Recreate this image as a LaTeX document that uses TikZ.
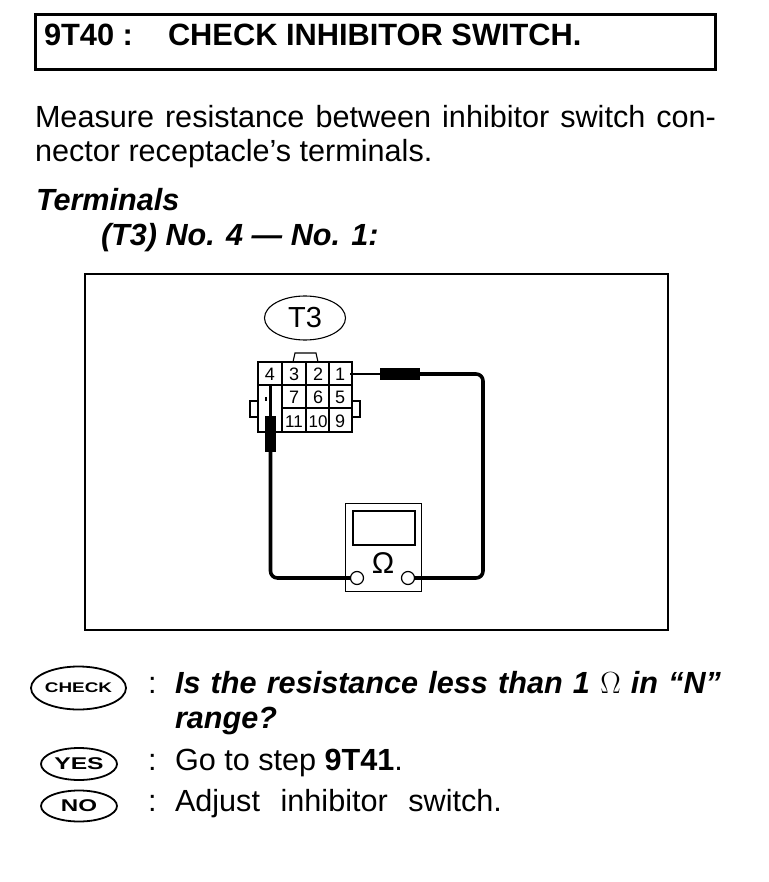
\documentclass[tikz,border=0pt]{standalone}
\usepackage{fontspec}
\usepackage{graphicx}
\setmainfont{Liberation Sans}
\usetikzlibrary{shapes.geometric}
\tikzset{
  txt/.style={anchor=base west,inner sep=0pt,outer sep=0pt},
  body/.style={txt,font=\fontsize{30.6}{34}\selectfont},
  head/.style={txt,font=\fontsize{30.8}{34}\selectfont\bfseries},
  quest/.style={txt,font=\fontsize{30.6}{34}\selectfont\bfseries\itshape},
  pill/.style={draw,ellipse,line width=1.8pt,inner sep=0pt},
  cellnum/.style={inner sep=0pt,font=\fontsize{18}{18}\selectfont},
  wire/.style={line width=3.6pt,rounded corners=7pt},
  probe/.style={fill=black,draw=none,inner sep=0pt,outer sep=0pt},
  thin/.style={line width=1.1pt},
}
\begin{document}
\begin{tikzpicture}[x=1pt,y=-1pt]
\useasboundingbox (0,0) rectangle (768,882);
% title
\node[draw,line width=2.6pt,minimum width=680pt,minimum height=55pt,inner sep=0pt,anchor=north west] (titlebox) at (34,13) {};
\node[head] (tnum) at (44,46) {9T40 :};
\node[head] (ttext) at (168,46) {CHECK INHIBITOR SWITCH.};
% paragraph
\node[body] (p1) at (35,128) {\makebox[681pt][s]{Measure resistance between inhibitor switch con-}};
\node[body] (p2) at (35,162) {nector receptacle’s terminals.};
\node[quest] (term) at (36,211) {Terminals};
\node[quest] (t3line) at (101,246) {(T3) No. 4 — No. 1:};
% frame
\node[draw,line width=1.6pt,minimum width=583pt,minimum height=356pt,inner sep=0pt,anchor=north west] (frame) at (84,273) {};
\node[draw,ellipse,thin,minimum width=81pt,minimum height=44pt,inner sep=0pt,font=\fontsize{29}{29}\selectfont] (t3) at (305,318) {T3};
% connector
\draw[thin] (293,362) -- (295,353) -- (316,353) -- (318,362);
\draw[thin] (258,401) -- (250,401) -- (250,417) -- (258,417);
\draw[thin] (352,401) -- (360,401) -- (360,417) -- (352,417);
\draw[thin] (258,385) rectangle (352,432);
\draw[thin] (258,362) rectangle (352,385);
\draw[thin] (282,362) -- (282,432);
\draw[thin] (306,362) -- (306,432);
\draw[thin] (329,362) -- (329,432);
\draw[thin] (282,408) -- (352,408);
\fill (265,397) rectangle (267,401);
\node[cellnum,anchor=base] (c4) at (270,380.5) {4};
\node[cellnum,anchor=base] (c3) at (294,380.5) {3};
\node[cellnum,anchor=base] (c2) at (318,380.5) {2};
\node[cellnum,anchor=base] (c1) at (340,380.5) {1};
\node[cellnum,anchor=base] (c7) at (294,403.5) {7};
\node[cellnum,anchor=base] (c6) at (318,403.5) {6};
\node[cellnum,anchor=base] (c5) at (340,403.5) {5};
\node[cellnum,anchor=base,font=\fontsize{17}{17}\selectfont] (c11) at (294,427) {11};
\node[cellnum,anchor=base,font=\fontsize{17}{17}\selectfont] (c10) at (318,427) {10};
\node[cellnum,anchor=base] (c9) at (340,427) {9};
% meter
\node[draw,line width=1.4pt,minimum width=76pt,minimum height=88pt,inner sep=0pt,anchor=north west] (meter) at (345,503) {};
\node[draw,line width=1.6pt,minimum width=62pt,minimum height=34pt,inner sep=0pt,anchor=north west] (screen) at (352,510) {};
\node[inner sep=0pt,font=\fontsize{30}{30}\selectfont] (ohm) at (383,563) {Ω};
\node[draw,circle,line width=1.2pt,fill=white,minimum size=13pt,inner sep=0pt] (jl) at (357,578) {};
\node[draw,circle,line width=1.2pt,fill=white,minimum size=13pt,inner sep=0pt] (jr) at (408,578) {};
% probes
\node[probe,minimum width=40pt,minimum height=12pt] (pr) at (400,374) {};
\node[probe,minimum width=11pt,minimum height=36pt] (pl) at (270.5,434) {};
\coordinate (tip1) at (350,374);
\coordinate (tip4) at (270.5,385);
\draw[line width=2.4pt] (tip1) -- (pr.west);
\draw[line width=2.4pt] (tip4) -- (pl.north);
\draw[wire] (pr.east) -- (483,374) -- (483,578) -- (jr.east);
\draw[wire] (pl.south) -- (270.5,578) -- (jl.west);
% answers
\node[pill,minimum width=91pt,minimum height=43pt,font=\fontsize{14}{14}\selectfont\bfseries] (chk) at (78.5,688) {\scalebox{1.35}[1]{CHECK}};
\node[pill,minimum width=76pt,minimum height=32pt,font=\fontsize{17}{17}\selectfont\bfseries] (yes) at (79,764) {\scalebox{1.45}[1]{YES}};
\node[pill,minimum width=76pt,minimum height=31pt,font=\fontsize{17}{17}\selectfont\bfseries] (no) at (79,806) {\scalebox{1.42}[1]{NO}};
\node[body] (c1c) at (148,693) {:};
\node[quest] (q1) at (175,693) {\makebox[546pt][s]{Is the resistance less than 1 {\fontfamily{}\mdseries\upshape Ω} in “N”}};
\node[quest] (q2) at (175,728) {range?};
\node[body] (c2c) at (148,770) {:};
\node[body] (a1) at (175,770) {Go to step \textbf{9T41}.};
\node[body] (c3c) at (148,811) {:};
\node[body] (a2) at (175,811) {\makebox[327pt][s]{Adjust inhibitor switch.}};
\end{tikzpicture}
\end{document}
